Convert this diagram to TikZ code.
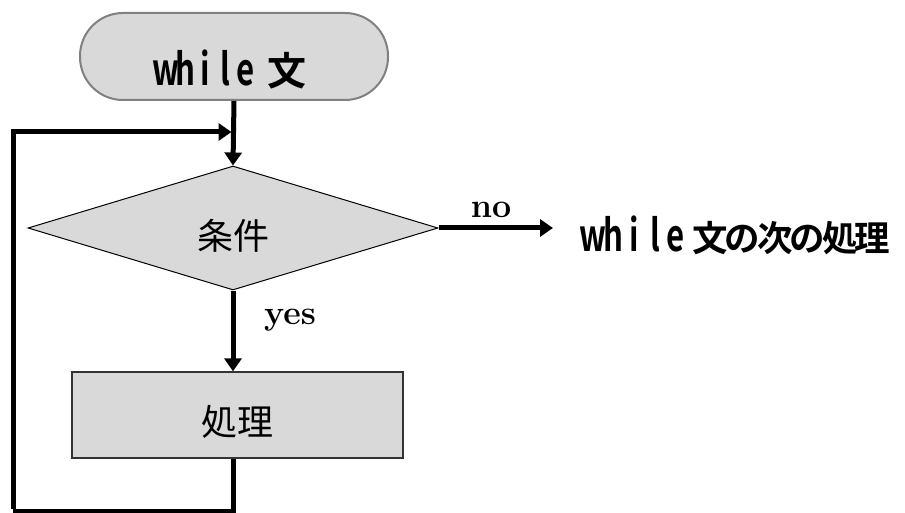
\documentclass[tikz,border=0pt]{standalone}
\usepackage{fontspec}
\usetikzlibrary{arrows.meta,shapes.geometric}
\newfontfamily\jp{Noto Sans CJK JP}
\newfontfamily\jpb{Noto Sans CJK JP Bold}
% half-width condensed Latin letters in fixed cells
\newcommand{\hwc}[2]{\makebox[#1][c]{\scalebox{0.78}[1.1]{#2}}}
\newcommand{\mywhile}[1]{\hwc{#1}{w}\hwc{#1}{h}\hwc{#1}{i}\hwc{#1}{l}\hwc{#1}{e}}
% full-width characters in fixed cells
\newcommand{\fwc}[1]{\makebox[32.5pt][c]{#1}}
\definecolor{boxfill}{HTML}{D9D9D9}
\definecolor{termline}{HTML}{808080}
\tikzset{
  conn/.style={line width=5pt, -{Triangle[length=13pt,width=17pt]}},
  plainconn/.style={line width=5pt},
  termbox/.style={draw=termline, line width=2pt, fill=boxfill, rounded corners=43pt,
    minimum width=308pt, minimum height=87pt, inner sep=0pt},
  condbox/.style={diamond, draw=black, line width=1pt, fill=boxfill, aspect=3.3,
    minimum width=410pt, minimum height=124pt, inner sep=0pt},
  procbox/.style={draw=black!80, line width=1.3pt, fill=boxfill,
    minimum width=331pt, minimum height=86pt, inner sep=0pt},
  lbl/.style={inner sep=0pt},
  serifl/.style={inner sep=0pt, font=\fontsize{34}{34}\selectfont\bfseries},
}
\begin{document}
\begin{tikzpicture}[x=1pt,y=-1pt]
\useasboundingbox (0,0) rectangle (905,513);
\node[termbox, label={[lbl, yshift=-13pt, xshift=-3pt]center:{\jpb\fontsize{40}{40}\selectfont\mywhile{20pt}\hspace{12pt}{\fontsize{39}{39}\selectfont 文}}}] (term) at (234,56.5) {};
\node[condbox, label={[lbl, yshift=-7.5pt]center:{\jp\fontsize{36}{36}\selectfont 条件}}] (cond) at (233,228) {};
\node[procbox, label={[lbl, yshift=-6.5pt]center:{\jp\fontsize{36}{36}\selectfont 処理}}] (proc) at (237.5,415) {};
\coordinate (noend) at (553,228);
\coordinate (loopbl) at (13,511);
\coordinate (looptl) at (13,132);
\node[lbl, anchor=west] (next) at (583,235) {\jpb\fontsize{40}{40}\selectfont\mywhile{20.5pt}\hspace{8pt}{\fontsize{35.5}{35.5}\selectfont\fwc{文}\fwc{の}\fwc{次}\fwc{の}\fwc{処}\fwc{理}}};
\node[serifl] (no) at (491,210) {no};
\node[serifl, anchor=west] (yes) at (264,320) {yes};
\draw[conn] (term.south) -- (cond.north);
\draw[conn] (cond.south) -- (cond.south |- proc.north);
\draw[conn] (cond.east) -- (noend);
\draw[plainconn] (cond.south |- proc.south) -- (cond.south |- loopbl) -- (loopbl);
\draw[conn] ([yshift=2.5pt]loopbl) -- (looptl) -- ([xshift=-2.5pt]term.south |- looptl);
\end{tikzpicture}
\end{document}
